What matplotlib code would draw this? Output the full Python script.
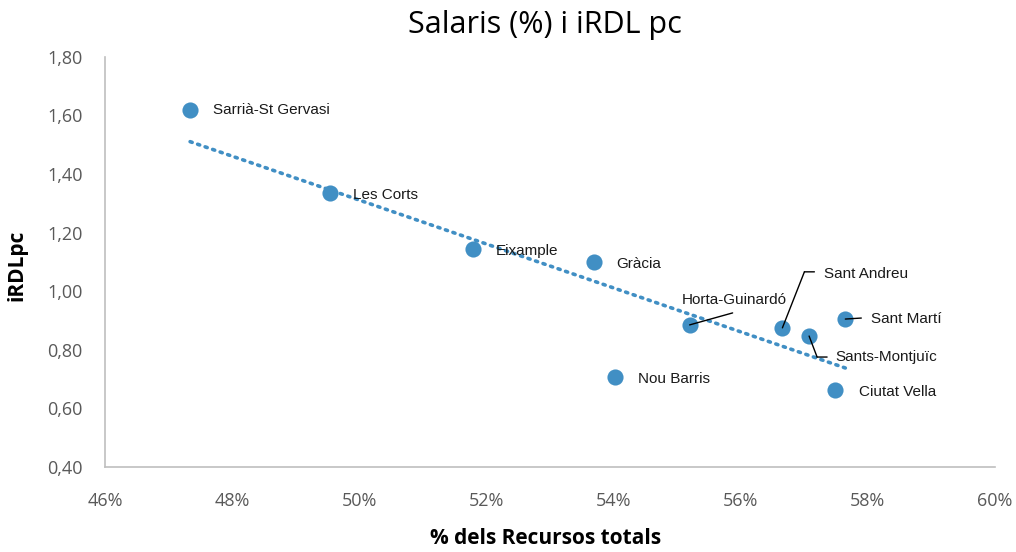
import matplotlib
matplotlib.use("Agg")
import matplotlib.pyplot as plt
import numpy as np
from matplotlib.ticker import FuncFormatter, MultipleLocator
from matplotlib.transforms import offset_copy

districts = ["Sarrià-St Gervasi", "Les Corts", "Eixample", "Gràcia", "Horta-Guinardó",
             "Nou Barris", "Sant Andreu", "Sants-Montjuïc", "Sant Martí", "Ciutat Vella"]
salaris_pct = [47.34, 49.54, 51.79, 53.69, 55.20, 54.02, 56.66, 57.08, 57.65, 57.48]
irdl_pc = [1.619, 1.336, 1.144, 1.100, 0.885, 0.707, 0.875, 0.847, 0.905, 0.663]

BLUE = "#418FC4"
GRAY = "#595959"
SANS = ["Open Sans", "DejaVu Sans"]

# label offsets (pixels) and leader line vertices (pixel offsets from point)
label_offsets = {
    "Sarrià-St Gervasi": (23, 0, "left"),
    "Les Corts": (23, -2, "left"),
    "Eixample": (23, -2, "left"),
    "Gràcia": (23, -2, "left"),
    "Horta-Guinardó": (45, 25, "center"),
    "Nou Barris": (23, -2, "left"),
    "Sant Andreu": (42, 54, "left"),
    "Sants-Montjuïc": (26, -21, "left"),
    "Sant Martí": (26, 0, "left"),
    "Ciutat Vella": (24, -2, "left"),
}
leaders = {
    "Horta-Guinardó": [(0, 0), (43, 12)],
    "Sant Andreu": [(0, 0), (22, 56), (32, 56)],
    "Sants-Montjuïc": [(0, 0), (8, -21), (18, -21)],
    "Sant Martí": [(0, 0), (16, 1)],
}

fig = plt.figure(figsize=(10.16, 5.52), dpi=100)
ax = fig.add_axes([0.1033, 0.154, 0.8757, 0.743])

ax.scatter(salaris_pct, irdl_pc, s=135, color=BLUE, zorder=3, linewidths=0)

# linear trendline
slope, intercept = np.polyfit(salaris_pct, irdl_pc, 1)
xs = np.array([min(salaris_pct), max(salaris_pct)])
ax.plot(xs, slope * xs + intercept, linestyle=(0, (0.6, 1.6)), color=BLUE,
        linewidth=2.6, dash_capstyle="round", zorder=2)

ax.set_xlim(46, 60)
ax.set_ylim(0.4, 1.8)
ax.xaxis.set_major_locator(MultipleLocator(2))
ax.yaxis.set_major_locator(MultipleLocator(0.2))
ax.xaxis.set_major_formatter(FuncFormatter(lambda v, p: f"{v:.0f}%"))
ax.yaxis.set_major_formatter(FuncFormatter(lambda v, p: f"{v:.2f}".replace(".", ",")))

label_font = ["Liberation Sans Narrow", "Liberation Sans", "DejaVu Sans"]
for name, x, y in zip(districts, salaris_pct, irdl_pc):
    dx, dy, ha = label_offsets[name]
    ax.annotate(name, (x, y), xytext=(dx, dy), textcoords="offset pixels",
                ha=ha, va="center", fontsize=11, family=label_font, color="#1a1a1a")
    pts = leaders.get(name)
    if pts:
        for (ax0, ay0), (ax1, ay1) in zip(pts[:-1], pts[1:]):
            tr = offset_copy(ax.transData, fig=fig, x=ax0, y=ay0, units="dots")
            ax.annotate("", (x, y), xycoords=tr, xytext=(ax1 - ax0, ay1 - ay0),
                        textcoords="offset pixels",
                        arrowprops=dict(arrowstyle="-", color="black", lw=1,
                                        shrinkA=0, shrinkB=0))

for side in ["top", "right"]:
    ax.spines[side].set_visible(False)
for side in ["left", "bottom"]:
    ax.spines[side].set_color("#BFBFBF")
    ax.spines[side].set_linewidth(1.2)
ax.tick_params(length=0, labelsize=13, labelcolor=GRAY)
ax.tick_params(axis="x", pad=18)
ax.tick_params(axis="y", pad=16)
for lbl in ax.get_xticklabels() + ax.get_yticklabels():
    lbl.set_family(SANS)

fig.text(0.537, 0.025, "% dels Recursos totals", ha="center", va="center",
         fontsize=15, fontweight="bold", family=SANS)
fig.text(0.017, 0.52, "iRDLpc", ha="center", va="center", rotation=90,
         fontsize=15, fontweight="bold", family=SANS)
fig.text(0.536, 0.955, "Salaris (%) i iRDL pc", ha="center", va="center",
         fontsize=22, family=SANS)

fig.savefig("out.png", dpi=100)
